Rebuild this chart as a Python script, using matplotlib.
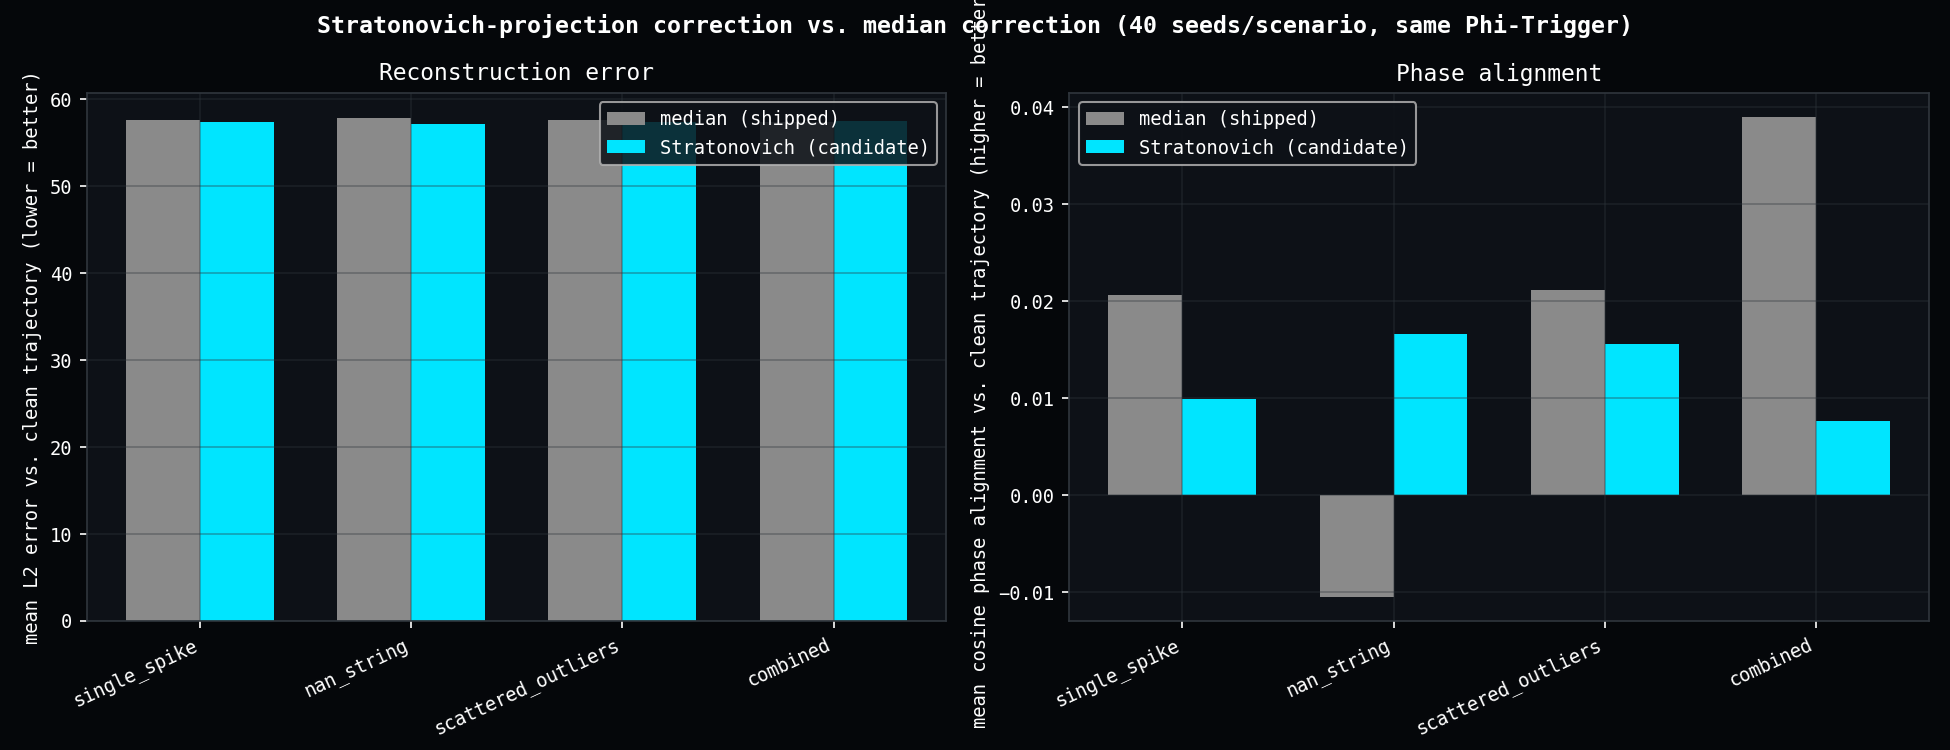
import matplotlib
matplotlib.use("Agg")
import matplotlib.pyplot as plt
import numpy as np

scenarios = ["single_spike", "nan_string", "scattered_outliers", "combined"]
l2_median = [57.6, 57.8, 57.6, 57.3]
l2_strat = [57.35, 57.1, 57.35, 57.5]
phase_median = [0.0206, -0.0105, 0.0212, 0.0390]
phase_strat = [0.0099, 0.0166, 0.0156, 0.0077]

FIG_BG = "#05070a"
AX_BG = "#0d1117"
TXT = "#ffffff"
GRAY = "#8a8a8a"
CYAN = "#00e5ff"

plt.rcParams["font.family"] = ["DejaVu Sans Mono", "DejaVu Sans"]
plt.rcParams["font.size"] = 9

fig, axes = plt.subplots(1, 2, figsize=(13, 5), dpi=150, facecolor=FIG_BG)
fig.subplots_adjust(left=0.0446, right=0.9892, bottom=0.172, top=0.876, wspace=0.143)

x = np.arange(len(scenarios))
w = 0.35

panels = [
    (axes[0], l2_median, l2_strat, "Reconstruction error",
     "mean L2 error vs. clean trajectory (lower = better)", "upper right"),
    (axes[1], phase_median, phase_strat, "Phase alignment",
     "mean cosine phase alignment vs. clean trajectory (higher = better)", "upper left"),
]

for ax, med, strat, title, ylabel, loc in panels:
    ax.set_facecolor(AX_BG)
    ax.bar(x - w / 2, med, w, color=GRAY, label="median (shipped)")
    ax.bar(x + w / 2, strat, w, color=CYAN, label="Stratonovich (candidate)")
    ax.set_xticks(x)
    ax.set_xticklabels(scenarios, rotation=25, ha="right")
    ax.set_title(title, color=TXT, fontsize=11)
    ax.set_ylabel(ylabel, color=TXT, fontsize=9)
    ax.tick_params(colors=TXT, labelsize=9)
    for sp in ax.spines.values():
        sp.set_color("#30363d")
    ax.grid(True, color="#30363d", alpha=0.4, linewidth=0.8)
    leg = ax.legend(loc=loc, facecolor=AX_BG, edgecolor="#b0b0b0", framealpha=0.85,
                    fontsize=9)
    for t in leg.get_texts():
        t.set_color(TXT)

fig.suptitle("Stratonovich-projection correction vs. median correction (40 seeds/scenario, same Phi-Trigger)",
             color=TXT, fontsize=11.2, fontweight="bold", y=0.982)

fig.savefig("out.png", dpi=150, facecolor=FIG_BG)
